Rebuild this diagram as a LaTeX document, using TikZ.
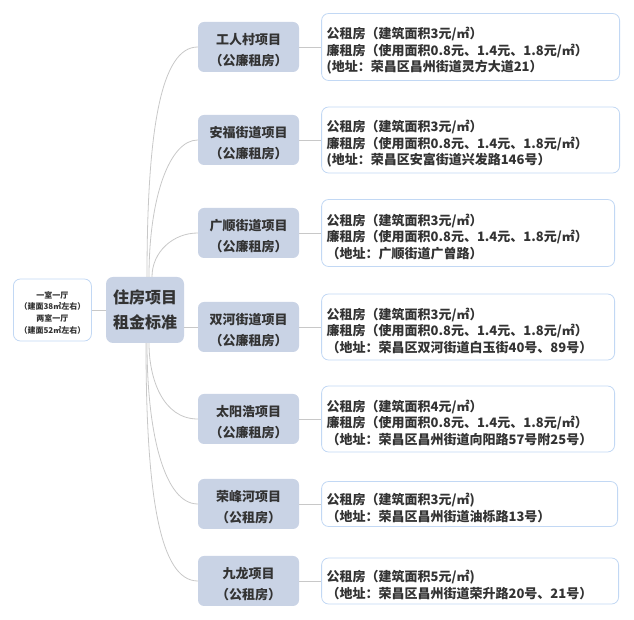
\documentclass[tikz,border=0pt]{standalone}
\usepackage{fontspec}
\setmainfont{Noto Sans CJK SC}
\usetikzlibrary{positioning}
\definecolor{projfill}{HTML}{C9D3E5}
\definecolor{infoline}{HTML}{C2D8F4}
\definecolor{branchgray}{HTML}{C8C8C8}
\definecolor{inktext}{HTML}{333333}
\begin{document}
\begin{tikzpicture}[x=1pt,y=1pt,
    project/.style={fill=projfill, rounded corners=6, minimum width=101,
      minimum height=50, text width=90, align=center, text=inktext, text height=17.5,
      font=\fontsize{13}{21}\selectfont\bfseries},
    info/.style={draw=infoline, line width=0.8, fill=white, rounded corners=7,
      inner xsep=5, inner ysep=2, align=left, text=inktext, text height=19,
      font=\fontsize{13}{16.7}\selectfont\bfseries},
    branch/.style={draw=branchgray, line width=0.8}]
    \useasboundingbox (0,0) rectangle (634,620);

    \node[
      project,
      minimum width=78,
      minimum height=66,
      text width=70,
      rounded corners=7,
      text height={},
      font=\fontsize{16}{25}\selectfont\bfseries] (root) at (145,310) {
      住房项目\\租金标准};
    \node[
      info,
      align=center,
      minimum width=78,
      minimum height=62,
      inner xsep=2,
      text width=74,
      text height=12,
      font=\fontsize{8}{11.7}\selectfont\bfseries] (rooms) [left=14 of root] {
      一室一厅\\（建面38㎡左右）\\两室一厅\\（建面52㎡左右）};

    % projects
    \node[project] (p1) at (248.5,573) {工人村项目\\（公廉租房）};
    \node[project] (p2) at (248.5,480) {安福街道项目\\（公廉租房）};
    \node[project] (p3) at (248.5,387) {广顺街道项目\\（公廉租房）};
    \node[project] (p4) at (248.5,293) {双河街道项目\\（公廉租房）};
    \node[project] (p5) at (248.5,201) {太阳浩项目\\（公廉租房）};
    \node[project] (p6) at (248.5,116) {荣峰河项目\\（公租房）};
    \node[project] (p7) at (248.5,39) {九龙项目\\（公租房）};

    % rent details
    \node[info, text width=288, minimum height=67] (d1) [right=22 of p1] {
      公租房（建筑面积3元/㎡）\\
      廉租房（使用面积0.8元、1.4元、1.8元/㎡）\\
      (地址：荣昌区昌州街道灵方大道21）};
    \node[info, text width=288, minimum height=66] (d2) [right=22 of p2] {
      公租房（建筑面积3元/㎡）\\
      廉租房（使用面积0.8元、1.4元、1.8元/㎡）\\
      (地址：荣昌区安富街道兴发路146号）};
    \node[info, text width=283, minimum height=67] (d3) [right=22 of p3] {
      公租房（建筑面积3元/㎡）\\
      廉租房（使用面积0.8元、1.4元、1.8元/㎡）\\
      （地址：广顺街道广曾路）};
    \node[info, text width=283, minimum height=66] (d4) [right=22 of p4] {
      公租房（建筑面积3元/㎡）\\
      廉租房（使用面积0.8元、1.4元、1.8元/㎡）\\
      （地址：荣昌区双河街道白玉街40号、89号）};
    \node[info, text width=283, minimum height=66] (d5) [right=22 of p5] {
      公租房（建筑面积4元/㎡）\\
      廉租房（使用面积0.8元、1.4元、1.8元/㎡）\\
      （地址：荣昌区昌州街道向阳路57号附25号）};
    \node[info, text width=286, minimum height=45] (d6) [right=22 of p6] {
      公租房（建筑面积3元/㎡)\\
      （地址：荣昌区昌州街道油栎路13号）};
    \node[info, text width=287, minimum height=46] (d7) [right=22 of p7] {
      公租房（建筑面积5元/㎡)\\
      （地址：荣昌区昌州街道荣升路20号、21号）};

    \draw[branch] (rooms) -- (root);
    \draw[branch] ([xshift=2]root.north) to[out=90,in=180,out looseness=1.6,in looseness=0.4] (p1.west);
    \draw[branch] ([xshift=4]root.north) to[out=90,in=180,out looseness=1.4,in looseness=0.5] (p2.west);
    \draw[branch] ([xshift=7]root.north) to[out=90,in=180] (p3.west);
    \draw[branch] (root.east |- p4.west) -- (p4.west);
    \draw[branch] ([xshift=4]root.south) to[out=-90,in=180] (p5.west);
    \draw[branch] ([xshift=2]root.south) to[out=-90,in=180,out looseness=1.4,in looseness=0.5] (p6.west);
    \draw[branch] ([xshift=1]root.south) to[out=-90,in=180,out looseness=1.6,in looseness=0.4] (p7.west);
    \foreach \i in {1,...,7}
      \draw[branch] (p\i) -- (d\i);
  \end{tikzpicture}
\end{document}
